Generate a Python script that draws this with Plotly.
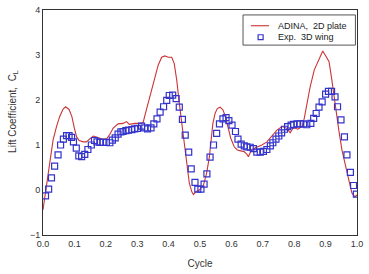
import plotly.graph_objects as go

# ADINA 2D plate (line)
adina_x = [0.0, 0.011, 0.021, 0.032, 0.043, 0.053, 0.064, 0.072, 0.083, 0.092, 0.1, 0.107, 0.115,
           0.128, 0.138, 0.149, 0.16, 0.17, 0.186, 0.202, 0.213, 0.223, 0.239, 0.255, 0.266, 0.275,
           0.293, 0.309, 0.319, 0.325, 0.335, 0.346, 0.357, 0.367, 0.378, 0.388, 0.399, 0.41, 0.418,
           0.426, 0.434, 0.442, 0.45, 0.458, 0.466, 0.474, 0.479, 0.487, 0.498, 0.511, 0.521, 0.53,
           0.535, 0.541, 0.548, 0.555, 0.564, 0.573, 0.581, 0.59, 0.598, 0.609, 0.619, 0.63, 0.641,
           0.649, 0.654, 0.665, 0.681, 0.697, 0.713, 0.729, 0.745, 0.761, 0.777, 0.787, 0.798, 0.811,
           0.825, 0.832, 0.84, 0.851, 0.864, 0.878, 0.891, 0.902, 0.911, 0.92, 0.931, 0.942, 0.952,
           0.963, 0.974, 0.984, 0.993, 1.0]
adina_y = [-0.44, 0.07, 0.59, 1.11, 1.41, 1.63, 1.8, 1.85, 1.79, 1.63, 1.37, 1.18, 1.1,
           1.07, 1.07, 1.13, 1.2, 1.18, 1.14, 1.13, 1.24, 1.37, 1.47, 1.48, 1.52, 1.46,
           1.48, 1.48, 1.5, 1.67, 1.93, 2.22, 2.52, 2.78, 2.95, 2.98, 2.95, 2.95, 2.81,
           2.44, 1.93, 1.48, 0.96, 0.52, 0.15, -0.04, -0.1, -0.04, 0.0, 0.11, 0.37, 0.74,
           1.11, 1.48, 1.7, 1.81, 1.84, 1.78, 1.63, 1.37, 1.15, 0.96, 0.89, 0.87, 0.85,
           0.8, 0.74, 0.9, 0.95, 1.0, 1.07, 1.2, 1.33, 1.41, 1.37, 1.27, 1.39, 1.35,
           1.41, 1.59, 1.93, 2.3, 2.67, 2.89, 3.09, 2.96, 2.85, 2.44, 1.85, 1.33, 0.89,
           0.52, 0.22, -0.07, -0.15, -0.11]

# Experimental 3D wing (open squares)
exp_x = [0.008, 0.018, 0.027, 0.037, 0.048, 0.056, 0.065, 0.075, 0.083, 0.091, 0.097, 0.106,
         0.114, 0.123, 0.133, 0.143, 0.154, 0.164, 0.172, 0.181, 0.191, 0.202, 0.213, 0.221,
         0.23, 0.239, 0.248, 0.255, 0.264, 0.272, 0.283, 0.292, 0.301, 0.314, 0.324, 0.333,
         0.344, 0.353, 0.363, 0.373, 0.384, 0.394, 0.402, 0.413, 0.424, 0.434, 0.444, 0.453,
         0.464, 0.472, 0.484, 0.493, 0.503, 0.513, 0.522, 0.532, 0.543, 0.553, 0.562, 0.573,
         0.583, 0.592, 0.602, 0.613, 0.621, 0.631, 0.641, 0.649, 0.66, 0.67, 0.681, 0.692,
         0.702, 0.713, 0.724, 0.732, 0.742, 0.751, 0.76, 0.769, 0.779, 0.79, 0.798, 0.809,
         0.819, 0.83, 0.84, 0.853, 0.862, 0.87, 0.879, 0.889, 0.9, 0.909, 0.919, 0.93, 0.938,
         0.949, 0.96, 0.968, 0.979, 0.989, 0.998]
exp_y = [-0.13, 0.02, 0.27, 0.53, 0.78, 1.0, 1.13, 1.21, 1.21, 1.17, 1.07, 0.93,
         0.76, 0.74, 0.79, 0.9, 1.0, 1.1, 1.07, 1.06, 1.06, 1.06, 1.05, 1.11,
         1.16, 1.24, 1.29, 1.3, 1.32, 1.33, 1.34, 1.36, 1.37, 1.42, 1.38, 1.36,
         1.38, 1.47, 1.58, 1.73, 1.85, 1.99, 2.1, 2.11, 2.03, 1.84, 1.57, 1.22,
         0.84, 0.47, 0.17, 0.02, 0.02, 0.13, 0.36, 0.73, 1.0, 1.26, 1.47, 1.58,
         1.61, 1.54, 1.44, 1.3, 1.13, 1.02, 0.98, 0.96, 0.95, 0.92, 0.84, 0.84,
         0.86, 0.9, 0.98, 1.05, 1.13, 1.2, 1.27, 1.35, 1.41, 1.44, 1.46, 1.47,
         1.47, 1.47, 1.45, 1.48, 1.59, 1.7, 1.84, 1.96, 2.13, 2.19, 2.19, 2.07, 1.85,
         1.56, 1.18, 0.78, 0.39, 0.1, -0.09]

x_ticks = [0.0, 0.1, 0.2, 0.3, 0.4, 0.5, 0.6, 0.7, 0.8, 0.9, 1.0]
y_ticks = [-1, 0, 1, 2, 3, 4]
series_names = ["ADINA,  2D plate", "Exp.  3D wing"]
y_title = "Lift Coefficient,  C<sub>L</sub>"

font = "Liberation Sans, Arial, sans-serif"
red = "#cc3333"
blue = "#3333cc"

fig = go.Figure()
fig.add_trace(go.Scatter(x=adina_x, y=adina_y, mode="lines", name=series_names[0],
                         line=dict(color=red, width=1.1)))
fig.add_trace(go.Scatter(x=exp_x, y=exp_y, mode="markers", name=series_names[1],
                         marker=dict(symbol="square-open", size=6, color=blue,
                                     line=dict(width=1.2, color=blue))))

# Compact legend box drawn in paper coordinates
shapes = [
    dict(type="rect", xref="paper", yref="paper", x0=0.637, x1=0.995, y0=0.844, y1=0.978,
         line=dict(color="#555555", width=1), fillcolor="white", layer="above"),
    dict(type="line", xref="paper", yref="paper", x0=0.662, x1=0.72, y0=0.930, y1=0.930,
         line=dict(color=red, width=1.1), layer="above"),
    dict(type="rect", xref="paper", yref="paper", x0=0.685, x1=0.701, y0=0.868, y1=0.890,
         line=dict(color=blue, width=1.2), layer="above"),
]
annotations = [
    dict(xref="paper", yref="paper", x=0.742, y=0.930, xanchor="left", yanchor="middle",
         text=series_names[0], showarrow=False, font=dict(size=9, color="#222222")),
    dict(xref="paper", yref="paper", x=0.742, y=0.879, xanchor="left", yanchor="middle",
         text=series_names[1], showarrow=False, font=dict(size=9, color="#222222")),
    dict(xref="paper", yref="paper", x=-0.096, y=0.551, xanchor="center", yanchor="middle",
         text=y_title, textangle=-90, showarrow=False, font=dict(size=10, color="#333333")),
]

fig.update_layout(
    width=369, height=274,
    margin=dict(l=43, r=12, t=10, b=39),
    paper_bgcolor="white", plot_bgcolor="white",
    font=dict(family=font, size=9, color="#333333"),
    showlegend=False,
    shapes=shapes,
    annotations=annotations,
    xaxis=dict(range=[0, 1], tickvals=x_ticks, ticktext=[f"{v:.1f}" for v in x_ticks],
               showgrid=False, zeroline=False, showline=True, linecolor="#333333",
               linewidth=1, mirror=True, ticks="", tickfont=dict(size=9), automargin=False,
               title=dict(text="Cycle", font=dict(size=10), standoff=12)),
    yaxis=dict(range=[-1, 4], tickvals=y_ticks, showgrid=False, zeroline=False,
               showline=True, linecolor="#333333", linewidth=1, mirror=True, ticks="",
               tickfont=dict(size=9), automargin=False),
)

fig.write_html("out.html")
